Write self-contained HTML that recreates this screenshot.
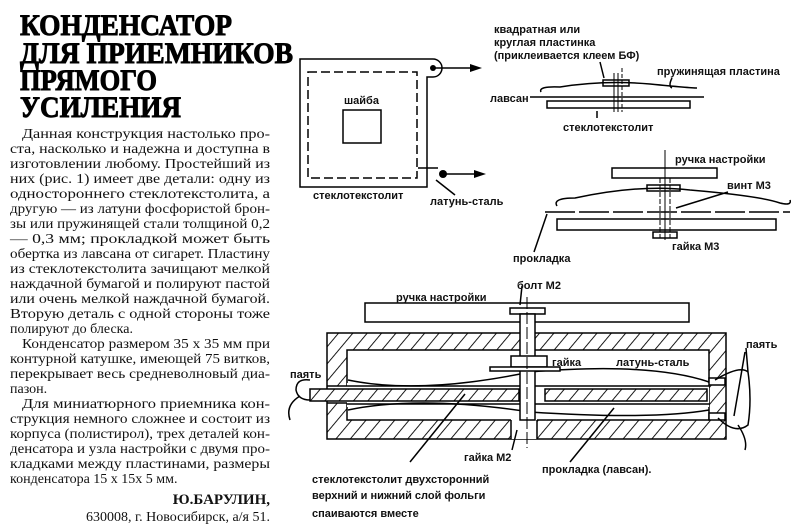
<!DOCTYPE html>
<html><head><meta charset="utf-8"><style>
html,body{margin:0;padding:0;background:#fff;}
svg{display:block;}
.b{font-family:"Liberation Serif","DejaVu Serif",serif;font-size:14px;fill:#111;}
.t{font-family:"Liberation Serif",serif;font-size:30px;font-weight:bold;fill:#000;stroke:#000;stroke-width:0.9;}
.l{font-family:"Liberation Sans","DejaVu Sans",sans-serif;font-size:11px;font-weight:bold;fill:#111;}
</style></head><body>
<svg width="800" height="527" viewBox="0 0 800 527" xmlns="http://www.w3.org/2000/svg">
<defs>
<pattern id="h" width="11" height="11" patternUnits="userSpaceOnUse" patternTransform="rotate(40)">
<rect width="11" height="11" fill="#fff"/><line x1="0" y1="0" x2="0" y2="11" stroke="#000" stroke-width="1.8"/></pattern>
</defs>
<rect width="800" height="527" fill="#fff"/>
<!-- title -->
<text class="t" x="20" y="35" textLength="212" lengthAdjust="spacingAndGlyphs">КОНДЕНСАТОР</text>
<text class="t" x="20" y="63" textLength="273" lengthAdjust="spacingAndGlyphs">ДЛЯ ПРИЕМНИКОВ</text>
<text class="t" x="20" y="90" textLength="137" lengthAdjust="spacingAndGlyphs">ПРЯМОГО</text>
<text class="t" x="20" y="117" textLength="161" lengthAdjust="spacingAndGlyphs">УСИЛЕНИЯ</text>
<!-- body -->
<g class="b">
<text x="22" y="138" textLength="248" lengthAdjust="spacingAndGlyphs">Данная конструкция настолько про-</text>
<text x="10" y="153" textLength="260" lengthAdjust="spacingAndGlyphs">ста, насколько и надежна и доступна в</text>
<text x="10" y="168" textLength="260" lengthAdjust="spacingAndGlyphs">изготовлении любому. Простейший из</text>
<text x="10" y="183" textLength="260" lengthAdjust="spacingAndGlyphs">них (рис. 1) имеет две детали: одну из</text>
<text x="10" y="198" textLength="260" lengthAdjust="spacingAndGlyphs">одностороннего стеклотекстолита, а</text>
<text x="10" y="213" textLength="260" lengthAdjust="spacingAndGlyphs">другую — из латуни фосфористой брон-</text>
<text x="10" y="228" textLength="260" lengthAdjust="spacingAndGlyphs">зы или пружинящей стали толщиной 0,2</text>
<text x="10" y="243" textLength="260" lengthAdjust="spacingAndGlyphs">— 0,3 мм; прокладкой может быть</text>
<text x="10" y="258" textLength="260" lengthAdjust="spacingAndGlyphs">обертка из лавсана от сигарет. Пластину</text>
<text x="10" y="273" textLength="260" lengthAdjust="spacingAndGlyphs">из стеклотекстолита зачищают мелкой</text>
<text x="10" y="288" textLength="260" lengthAdjust="spacingAndGlyphs">наждачной бумагой и полируют пастой</text>
<text x="10" y="303" textLength="260" lengthAdjust="spacingAndGlyphs">или очень мелкой наждачной бумагой.</text>
<text x="10" y="318" textLength="260" lengthAdjust="spacingAndGlyphs">Вторую деталь с одной стороны тоже</text>
<text x="10" y="333">полируют до блеска.</text>
<text x="22" y="348" textLength="248" lengthAdjust="spacingAndGlyphs">Конденсатор размером 35 х 35 мм при</text>
<text x="10" y="363" textLength="260" lengthAdjust="spacingAndGlyphs">контурной катушке, имеющей 75 витков,</text>
<text x="10" y="378" textLength="260" lengthAdjust="spacingAndGlyphs">перекрывает весь средневолновый диа-</text>
<text x="10" y="393">пазон.</text>
<text x="22" y="408" textLength="248" lengthAdjust="spacingAndGlyphs">Для миниатюрного приемника кон-</text>
<text x="10" y="423" textLength="260" lengthAdjust="spacingAndGlyphs">струкция немного сложнее и состоит из</text>
<text x="10" y="438" textLength="260" lengthAdjust="spacingAndGlyphs">корпуса (полистирол), трех деталей кон-</text>
<text x="10" y="453" textLength="260" lengthAdjust="spacingAndGlyphs">денсатора и узла настройки с двумя про-</text>
<text x="10" y="468" textLength="260" lengthAdjust="spacingAndGlyphs">кладками между пластинами, размеры</text>
<text x="10" y="483">конденсатора 15 х 15х 5 мм.</text>
<text x="270" y="504" text-anchor="end" font-weight="bold" font-size="15">Ю.БАРУЛИН,</text>
<text x="270" y="521" text-anchor="end">630008, г. Новосибирск, а/я 51.</text>
</g>

<g fill="none" stroke="#000" stroke-width="1.5">
<path d="M300,59 H433 A7,7 0 0 1 433,77 H427 V187 H300 Z"/>
<rect x="308" y="72" width="109" height="106" stroke-dasharray="9,4"/>
<rect x="343" y="110" width="38" height="33"/>
<line x1="433" y1="68" x2="472" y2="68"/>
<line x1="418" y1="168" x2="438" y2="168"/>
<line x1="443" y1="174" x2="476" y2="174"/>
<line x1="436" y1="180" x2="455" y2="195"/>
</g>
<circle cx="433" cy="68" r="3" fill="#000"/>
<circle cx="443" cy="174" r="4" fill="#000"/>
<path d="M470,64 L482,68 L470,72 Z M474,170 L486,174 L474,178 Z" fill="#000"/>
<text class="l" x="344" y="104">шайба</text>
<text class="l" x="313" y="199">стеклотекстолит</text>
<text class="l" x="430" y="205">латунь-сталь</text>

<!-- fig 2 -->
<g fill="none" stroke="#000" stroke-width="1.5">
<path d="M541,92 Q538,86 560,87 Q605,80 650,84 Q690,88 697,88"/>
<rect x="603" y="80" width="26" height="6"/>
<line x1="530" y1="97" x2="704" y2="97"/>
<rect x="547" y="101" width="143" height="7"/>
<line x1="614" y1="73" x2="614" y2="112" stroke-width="1"/>
<line x1="618" y1="73" x2="618" y2="112" stroke-width="1"/>
<line x1="622" y1="68" x2="622" y2="112" stroke-width="1" stroke-dasharray="4,2"/>
<line x1="600" y1="62" x2="604" y2="78"/>
<line x1="597" y1="111" x2="597" y2="118"/>
<path d="M672,78 Q668,86 672,88"/>
</g>
<text class="l" x="494" y="33">квадратная или</text>
<text class="l" x="494" y="46">круглая пластинка</text>
<text class="l" x="494" y="59">(приклеивается клеем БФ)</text>
<text class="l" x="657" y="75">пружинящая пластина</text>
<text class="l" x="490" y="102">лавсан</text>
<text class="l" x="563" y="131">стеклотекстолит</text>

<!-- fig 3 -->
<g fill="none" stroke="#000" stroke-width="1.5">
<rect x="612" y="168" width="105" height="10"/>
<rect x="647" y="185" width="33" height="6"/>
<path d="M557,206 Q552,198 575,198 Q640,184 690,190 Q760,196 780,203 Q792,206 790,200"/>
<line x1="545" y1="212" x2="790" y2="212" stroke-dasharray="30,4"/>
<rect x="557" y="219" width="219" height="11"/>
<rect x="653" y="232" width="24" height="6"/>
<line x1="665" y1="150" x2="665" y2="240" stroke-width="1"/>
<line x1="660" y1="178" x2="660" y2="238" stroke-width="1" stroke-dasharray="5,2"/>
<line x1="670" y1="178" x2="670" y2="238" stroke-width="1" stroke-dasharray="5,2"/>
<line x1="728" y1="192" x2="676" y2="208"/>
<line x1="547" y1="214" x2="534" y2="252"/>
</g>
<text class="l" x="675" y="163">ручка настройки</text>
<text class="l" x="727" y="189">винт М3</text>
<text class="l" x="672" y="250">гайка М3</text>
<text class="l" x="513" y="262">прокладка</text>

<!-- big fig -->
<g stroke="#000" stroke-width="1.5">
<path d="M327,333 H726 V439 H327 Z M347,350 V420 H709 V350 Z" fill="url(#h)" fill-rule="evenodd"/>
<rect x="511" y="419" width="26" height="20" fill="#fff" stroke="none"/>
<rect x="347" y="383" width="362" height="24" fill="#fff" stroke="none"/>
<rect x="328" y="386" width="19" height="17" fill="#fff" stroke="none"/>
<rect x="709" y="378" width="16" height="7" fill="#fff"/>
<rect x="709" y="413" width="16" height="7" fill="#fff"/>
<line x1="511" y1="420" x2="511" y2="439"/><line x1="537" y1="420" x2="537" y2="439"/>
<line x1="327" y1="386" x2="347" y2="386"/><line x1="327" y1="403" x2="347" y2="403"/>
<rect x="310" y="389" width="209" height="12" fill="url(#h)"/>
<rect x="545" y="389" width="162" height="12" fill="url(#h)"/>
<line x1="347" y1="386" x2="709" y2="386" fill="none"/>
<line x1="347" y1="404" x2="709" y2="404" fill="none"/>
<path d="M348,380 Q420,395 530,372 Q650,362 709,382" fill="none"/>
<path d="M348,410 Q420,395 530,412 Q650,420 709,410" fill="none"/>
<rect x="365" y="303" width="324" height="19" fill="#fff"/>
<rect x="510" y="308" width="35" height="6" fill="#fff"/>
<rect x="520" y="314" width="15" height="106" fill="#fff"/>
<rect x="511" y="356" width="36" height="11" fill="#fff"/>
<rect x="490" y="367" width="70" height="4" fill="#fff"/>
<line x1="527" y1="297" x2="527" y2="448" stroke-width="1" stroke-dasharray="12,3"/>
<path d="M310,380 Q296,378 296,390 Q298,400 310,400 M300,396 Q285,405 290,420 M715,380 Q740,365 748,372 Q752,400 748,425 Q735,435 718,418 M738,425 Q748,440 745,450 M748,372 L746,348 M734,416 L745,352" fill="none"/>
<line x1="522" y1="286" x2="520" y2="305"/>
<line x1="465" y1="394" x2="410" y2="462"/>
<line x1="614" y1="408" x2="570" y2="462"/>
<line x1="517" y1="430" x2="512" y2="450"/>
</g>
<text class="l" x="396" y="301">ручка настройки</text>
<text class="l" x="517" y="289">болт М2</text>
<text class="l" x="552" y="366">гайка</text>
<text class="l" x="616" y="366">латунь-сталь</text>
<text class="l" x="290" y="378">паять</text>
<text class="l" x="746" y="348">паять</text>
<text class="l" x="464" y="461">гайка М2</text>
<text class="l" x="542" y="473">прокладка (лавсан).</text>
<text class="l" x="312" y="483">стеклотекстолит двухсторонний</text>
<text class="l" x="312" y="499">верхний и нижний слой    фольги</text>
<text class="l" x="312" y="517">спаиваются вместе</text>
</svg>
</body></html>
